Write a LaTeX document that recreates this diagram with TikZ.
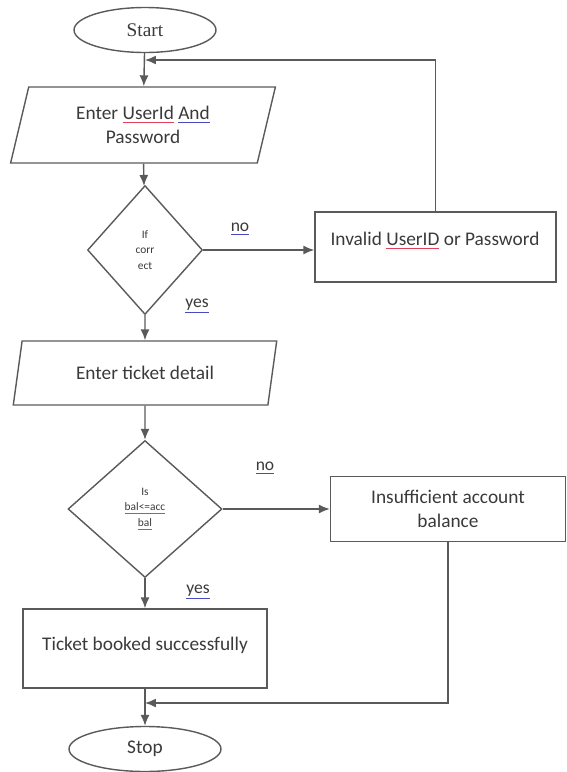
\documentclass[tikz,border=0pt]{standalone}
\usepackage{fontspec}
\setmainfont{Carlito}
\newfontfamily\timesfont{Liberation Serif}
\usepackage{xcolor}
\usepackage{tikz}
\usetikzlibrary{shapes,arrows,positioning,calc,arrows.meta}

\definecolor{linegray}{HTML}{5A5A5A}
\definecolor{textgray}{HTML}{3A3A3A}
\definecolor{spellred}{HTML}{E0405A}
\definecolor{grammarblue}{HTML}{4A4AC0}

% word-processor style underlines
\newcommand{\spellul}[1]{\textcolor{spellred}{\underline{\textcolor{textgray}{#1}}}}
\newcommand{\gramul}[1]{\textcolor{grammarblue}{\underline{\textcolor{textgray}{#1}}}}

\tikzset{
    box/.style={draw=linegray, line width=0.8pt, rectangle, text=textgray,
        font=\fontsize{11}{14}\selectfont, align=center},
    term/.style={draw=linegray, line width=0.8pt, ellipse, text=textgray,
        font=\fontsize{11}{14}\selectfont},
    io/.style={draw=linegray, line width=0.8pt, trapezium, trapezium stretches=true,
        trapezium left angle=77, trapezium right angle=103, text=textgray,
        font=\fontsize{11}{14}\selectfont, align=center},
    decision/.style={draw=linegray, line width=0.8pt, diamond, text=textgray,
        font=\fontsize{6.5}{9}\selectfont, align=center, inner sep=0pt},
    flow/.style={draw=linegray, line width=0.8pt, -{Latex[length=2.2mm,width=1.8mm]}},
    lbl/.style={text=textgray, font=\fontsize{10}{12}\selectfont}
}

\begin{document}
\begin{tikzpicture}[x=0.02cm, y=-0.02cm]
    \useasboundingbox (0,0) rectangle (567,772);

    % Login part
    \node[term, minimum width=2.84cm, minimum height=0.9cm] (start) at (145,30) {\timesfont Start};
    \node[io, minimum width=5.32cm, minimum height=1.52cm] (in1) at (143,125) {Enter \spellul{UserId} \gramul{And}\\Password};
    \node[decision, minimum width=2.3cm, minimum height=2.58cm] (chk1) at (145,250) {If\\corr\\ect};
    \node[box, minimum width=4.82cm, minimum height=1.4cm] (inv) at (435.5,247) {};
    \node[text=textgray, font=\fontsize{11}{14}\selectfont] (invtxt) at (435,241) {Invalid \spellul{UserID} or Password};
    \node[lbl] (no1) at (240,229) {\gramul{no}};
    \node[lbl] (yes1) at (197,306) {\gramul{yes}};
    \coordinate (j1) at (145,60);

    % Booking part
    \node[io, trapezium left angle=78, trapezium right angle=102, minimum width=5.3cm, minimum height=1.28cm] (in2) at (145,373) {Enter ticket detail};
    \node[decision, minimum width=3.08cm, minimum height=2.74cm] (chk2) at (145,509) {Is\\\spellul{bal<=acc}\\\spellul{bal}};
    \node[box, minimum width=4.7cm, minimum height=1.3cm] (ins) at (448,509) {Insufficient account\\balance};
    \node[lbl] (no2) at (265,468) {\gramul{no}};
    \node[lbl] (yes2) at (198,592) {\gramul{yes}};
    \node[box, minimum width=4.88cm, minimum height=1.58cm] (ok) at (145,648.5) {};
    \node[text=textgray, font=\fontsize{11}{14}\selectfont] (oktxt) at (145,645) {Ticket booked successfully};
    \node[term, minimum width=3.04cm, minimum height=0.9cm] (stop) at (145,749) {Stop};
    \coordinate (j2) at (145,703);

    % Connectors
    \draw[flow] (start) -- (in1);
    \draw[flow] (in1) -- (chk1);
    \draw[flow] (chk1.east) -- (chk1.east -| inv.west);
    \draw[flow] (inv.north) |- (j1);
    \draw[flow] (chk1.south) -- (in2);
    \draw[flow] (in2) -- (chk2);
    \draw[flow] (chk2.east) -- (ins.west);
    \draw[flow] (chk2.south) -- (ok);
    \draw[flow] (ins.south) |- (j2);
    \draw[flow] (ok) -- (stop);
\end{tikzpicture}
\end{document}
